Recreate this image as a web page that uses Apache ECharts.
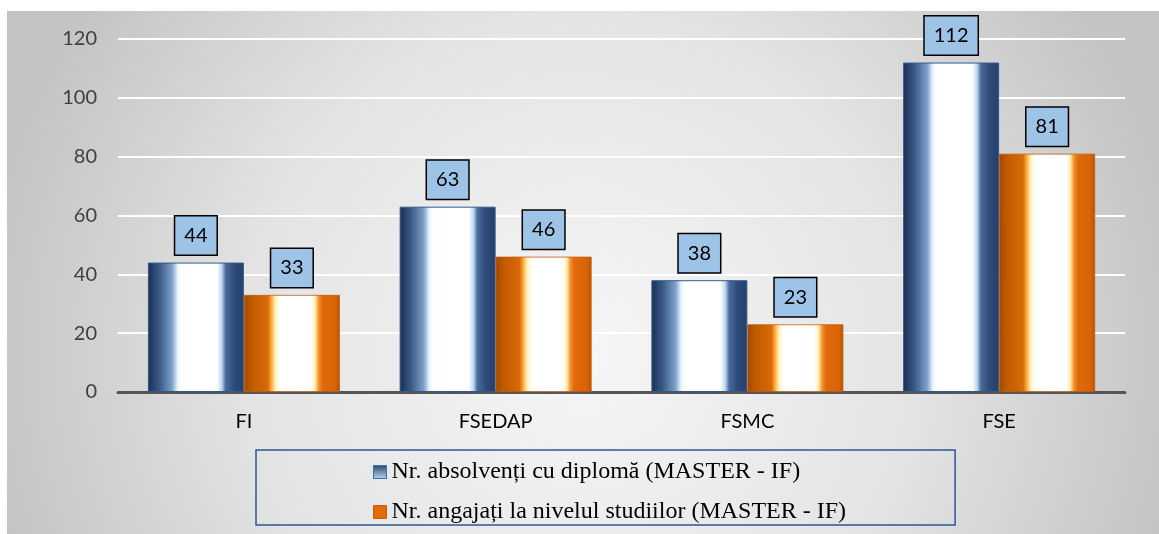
<!DOCTYPE html>
<html>
<head>
<meta charset="utf-8">
<script src="https://cdn.jsdelivr.net/npm/echarts@6/dist/echarts.min.js"></script>
<style>
html,body{margin:0;padding:0;background:#fff;}
#chart{width:1159px;height:534px;}
</style>
</head>
<body>
<div id="chart"></div>
<script>
const categories = ['FI', 'FSEDAP', 'FSMC', 'FSE'];
const seriesNames = ['Nr. absolvenți cu diplomă (MASTER - IF)', 'Nr. angajați la nivelul studiilor (MASTER - IF)'];
const absolventi = [44, 63, 38, 112];
const angajati = [33, 46, 23, 81];
const yTicks = { min: 0, max: 120, interval: 20 };

const blueGrad = new echarts.graphic.LinearGradient(0, 0, 1, 0, [
  {offset: 0, color: '#1a2e50'},
  {offset: 0.12, color: '#3b5a88'},
  {offset: 0.25, color: '#7d9fc8'},
  {offset: 0.31, color: '#e8f4ff'},
  {offset: 0.35, color: '#ffffff'},
  {offset: 0.72, color: '#ffffff'},
  {offset: 0.77, color: '#bcd6f0'},
  {offset: 0.81, color: '#4a6b9a'},
  {offset: 0.9, color: '#2e4a78'},
  {offset: 1, color: '#24406a'}
]);
const orangeGrad = new echarts.graphic.LinearGradient(0, 0, 1, 0, [
  {offset: 0, color: '#a04800'},
  {offset: 0.08, color: '#c05a00'},
  {offset: 0.25, color: '#d86a08'},
  {offset: 0.29, color: '#ffb040'},
  {offset: 0.33, color: '#fff4c0'},
  {offset: 0.38, color: '#ffffff'},
  {offset: 0.7, color: '#ffffff'},
  {offset: 0.74, color: '#fff0b0'},
  {offset: 0.78, color: '#f09030'},
  {offset: 0.82, color: '#e06a08'},
  {offset: 0.95, color: '#d86408'},
  {offset: 1, color: '#b85400'}
]);

const labelStyle = {
  show: true,
  position: 'top',
  distance: 8,
  fontFamily: 'Lato',
  fontSize: 20,
  lineHeight: 24,
  color: '#000',
  backgroundColor: '#9dc3e6',
  borderColor: '#000',
  borderWidth: 1.5,
  padding: [7, 9, 7, 9]
};

const legendText = {fontFamily: 'Liberation Serif', fontSize: 24, lineHeight: 24, color: '#000'};

const chart = echarts.init(document.getElementById('chart'), null, {renderer: 'canvas'});
chart.setOption({
  animation: false,
  backgroundColor: '#ffffff',
  textStyle: {fontFamily: 'Lato'},
  graphic: [{
    type: 'rect',
    z: -10,
    silent: true,
    shape: {x: 7, y: 11, width: 1152, height: 523},
    style: {
      fill: new echarts.graphic.RadialGradient(0.5, 0.65, 1.15, [
        {offset: 0, color: '#f6f6f6'},
        {offset: 0.55, color: '#e4e4e4'},
        {offset: 1, color: '#c4c4c4'}
      ])
    }
  }],
  grid: {left: 118, right: 34, top: 39, bottom: 142, containLabel: false},
  legend: {
    orient: 'vertical',
    left: 256,
    top: 450,
    padding: [10, 109, 1, 117],
    itemGap: 16,
    itemWidth: 13,
    itemHeight: 13,
    borderColor: '#2f5597',
    borderWidth: 1.5,
    backgroundColor: 'transparent',
    textStyle: legendText,
    data: [
      {name: seriesNames[0], icon: 'rect', textStyle: legendText, itemStyle: {color: new echarts.graphic.LinearGradient(0,0,0,1,[{offset:0,color:'#2a4670'},{offset:1,color:'#b9d3ec'}]), borderColor: '#2e75b6', borderWidth: 1}},
      {name: seriesNames[1], icon: 'rect', textStyle: legendText, itemStyle: {color: '#e36c09', borderColor: '#c55a11', borderWidth: 1}}
    ]
  },
  xAxis: {
    type: 'category',
    data: categories,
    axisTick: {show: false},
    axisLine: {show: true, lineStyle: {color: '#555555', width: 3, cap: 'round'}},
    axisLabel: {fontFamily: 'Lato', fontSize: 20, color: '#000', margin: 20}
  },
  yAxis: {
    type: 'value',
    min: yTicks.min,
    max: yTicks.max,
    interval: yTicks.interval,
    axisLine: {show: false},
    axisTick: {show: false},
    splitLine: {show: true, lineStyle: {color: '#ffffff', width: 2}},
    axisLabel: {fontFamily: 'Lato', fontSize: 20, color: '#404040', margin: 21}
  },
  series: [
    {
      name: seriesNames[0],
      type: 'bar',
      data: absolventi,
      barWidth: 96,
      barGap: '0%',
      itemStyle: {color: blueGrad, borderColor: '#2e5c8f', borderWidth: 1},
      label: labelStyle
    },
    {
      name: seriesNames[1],
      type: 'bar',
      data: angajati,
      barWidth: 96,
      barGap: '0%',
      itemStyle: {color: orangeGrad, borderColor: '#c55a11', borderWidth: 0.8},
      label: labelStyle
    }
  ]
});
</script>
</body>
</html>
